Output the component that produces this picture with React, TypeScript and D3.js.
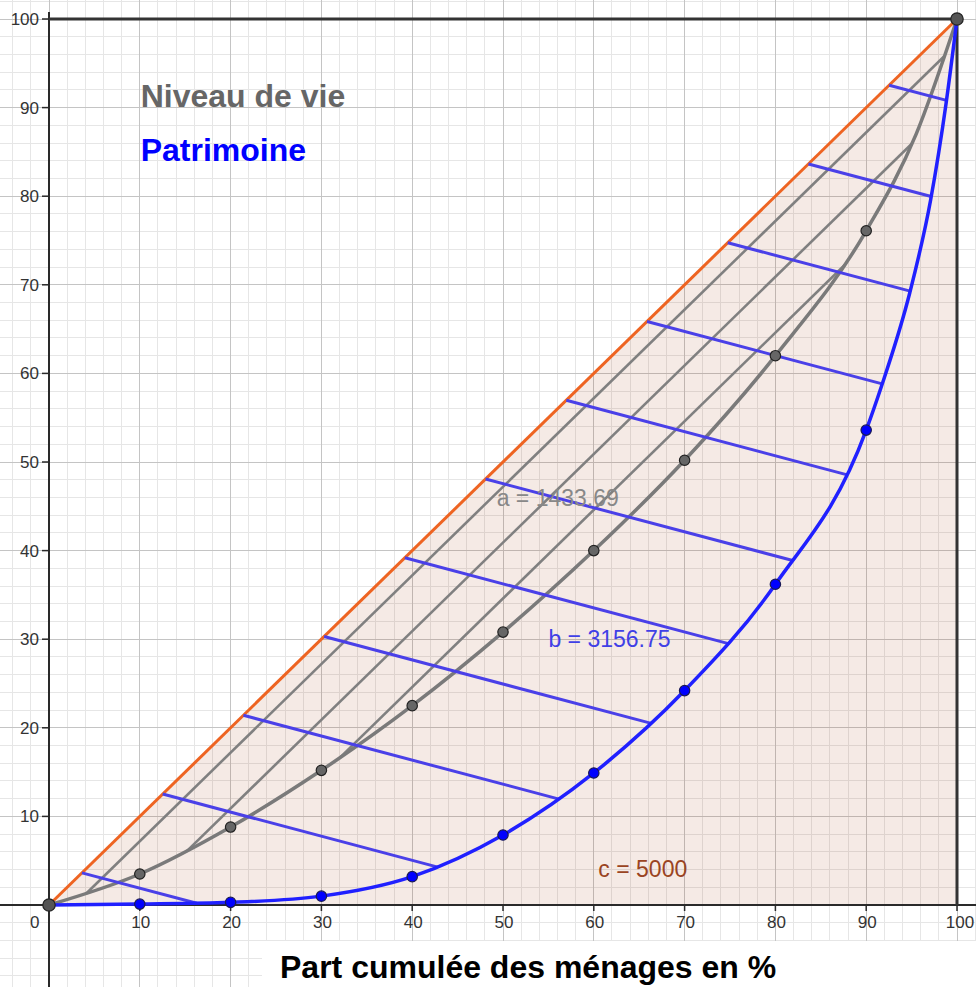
import React from 'react';
import * as d3 from 'd3';

const W = 976;
const H = 987;

// Data
const deciles = [0, 10, 20, 30, 40, 50, 60, 70, 80, 90, 100];
const niveauDeVie = [0, 3.5, 8.8, 15.2, 22.5, 30.8, 40.0, 50.2, 62.0, 76.1, 100];
const patrimoine = [0, 0.1, 0.3, 1.0, 3.2, 7.9, 14.9, 24.2, 36.2, 53.6, 100];
// extra readings of the curves near their steep end
const niveauTopX = [95.5];
const niveauTopY = [87.0];
const patrimoineTopX = [91.7, 94.8, 97.1, 98.8];
const patrimoineTopY = [58.6, 69.1, 79.6, 90.5];

const xTickValues = [10, 20, 30, 40, 50, 60, 70, 80, 90, 100];
const yTickValues = [10, 20, 30, 40, 50, 60, 70, 80, 90, 100];

// hatching of area a: lines parallel to the diagonal, offsets (percentage points)
const grayHatchOffsets = [2.8, 9.1, 15.4];
// hatching of area b: lines starting on the diagonal
const blueHatchStart = 3.63;
const blueHatchStep = 8.89;
const blueHatchCount = 11;
const blueHatchSlope = -0.272;

const areaNames = ['a', 'b', 'c'];
const areaValues = ['1433.69', '3156.75', '5000'];
const legendNames = ['Niveau de vie', 'Patrimoine'];
const axisTitle = 'Part cumulée des ménages en %';

const FONT = '"Liberation Sans", Arial, Helvetica, sans-serif';

function monotone(xs: number[], ys: number[]) {
  const n = xs.length;
  const s: number[] = [];
  for (let i = 0; i < n - 1; i++) s.push((ys[i + 1] - ys[i]) / (xs[i + 1] - xs[i]));
  const t: number[] = new Array(n).fill(0);
  for (let i = 1; i < n - 1; i++) {
    const h0 = xs[i] - xs[i - 1];
    const h1 = xs[i + 1] - xs[i];
    const s0 = s[i - 1];
    const s1 = s[i];
    const p = (s0 * h1 + s1 * h0) / (h0 + h1);
    t[i] = (Math.sign(s0) + Math.sign(s1)) * Math.min(Math.abs(s0), Math.abs(s1), 0.5 * Math.abs(p)) || 0;
  }
  t[0] = (3 * s[0] - t[1]) / 2;
  t[n - 1] = (3 * s[n - 2] - t[n - 2]) / 2;
  return (x: number) => {
    let i = 0;
    while (i < n - 2 && x > xs[i + 1]) i++;
    const h = xs[i + 1] - xs[i];
    const u = (x - xs[i]) / h;
    const u2 = u * u;
    const u3 = u2 * u;
    return (
      (2 * u3 - 3 * u2 + 1) * ys[i] +
      (u3 - 2 * u2 + u) * h * t[i] +
      (-2 * u3 + 3 * u2) * ys[i + 1] +
      (u3 - u2) * h * t[i + 1]
    );
  };
}

function bisect(f: (v: number) => number, lo: number, hi: number) {
  const flo = f(lo);
  for (let it = 0; it < 60; it++) {
    const mid = (lo + hi) / 2;
    if (Math.sign(f(mid)) === Math.sign(flo)) lo = mid;
    else hi = mid;
  }
  return (lo + hi) / 2;
}

export default function App() {
  const x = d3.scaleLinear().domain([0, 100]).range([49, 957]);
  const y = d3.scaleLinear().domain([0, 100]).range([905, 19]);

  const grayPts: [number, number][] = deciles.map((d, i) => [d, niveauDeVie[i]]);
  const bluePts: [number, number][] = deciles.map((d, i) => [d, patrimoine[i]]);
  const grayCurvePts: [number, number][] = [
    ...grayPts.slice(0, 10),
    ...niveauTopX.map((v, i) => [v, niveauTopY[i]] as [number, number]),
    grayPts[10],
  ];
  const blueCurvePts: [number, number][] = [
    ...bluePts.slice(0, 10),
    ...patrimoineTopX.map((v, i) => [v, patrimoineTopY[i]] as [number, number]),
    bluePts[10],
  ];

  const line = d3
    .line<[number, number]>()
    .x((d) => x(d[0]))
    .y((d) => y(d[1]))
    .curve(d3.curveMonotoneX);
  const straight = d3
    .line<[number, number]>()
    .x((d) => x(d[0]))
    .y((d) => y(d[1]));

  const G = monotone(grayCurvePts.map((d) => d[0]), grayCurvePts.map((d) => d[1]));
  const B = monotone(blueCurvePts.map((d) => d[0]), blueCurvePts.map((d) => d[1]));

  const gap = (v: number) => v - G(v);
  const xs = d3.range(0, 100.001, 0.25);
  const xMax = xs[d3.maxIndex(xs, gap)];

  const grayHatch = grayHatchOffsets.map((c) => {
    const f = (v: number) => gap(v) - c;
    const x0 = bisect(f, 0.0001, xMax);
    const x1 = bisect(f, xMax, 100);
    return [
      [x0, x0 - c],
      [x1, x1 - c],
    ] as [number, number][];
  });

  const blueHatch = d3.range(blueHatchCount).map((k) => {
    const s0 = blueHatchStart + k * blueHatchStep;
    const f = (v: number) => s0 + blueHatchSlope * (v - s0) - B(v);
    const xe = bisect(f, s0, 100);
    return [
      [s0, s0],
      [xe, s0 + blueHatchSlope * (xe - s0)],
    ] as [number, number][];
  });

  const minor = d3.range(-10, 104, 2);
  const major = d3.range(-10, 104, 10);

  const tri: [number, number][] = [
    [0, 0],
    [100, 100],
    [100, 0],
  ];

  return (
    <svg
      width={W}
      height={H}
      viewBox={`0 0 ${W} ${H}`}
      style={{ position: 'absolute', left: 0, top: 0, background: '#fff' }}
      fontFamily={FONT}
    >
      <rect x={0} y={0} width={W} height={H} fill="#fff" />
      {/* grid */}
      <g shapeRendering="crispEdges">
        {minor.map((v) => (
          <line key={'mx' + v} x1={x(v)} x2={x(v)} y1={0} y2={H} stroke="#e6e6e6" strokeWidth={1} />
        ))}
        {minor.map((v) => (
          <line key={'my' + v} x1={0} x2={W} y1={y(v)} y2={y(v)} stroke="#e6e6e6" strokeWidth={1} />
        ))}
        {major.map((v) => (
          <line key={'Mx' + v} x1={x(v)} x2={x(v)} y1={0} y2={H} stroke="#c4c4c4" strokeWidth={1} />
        ))}
        {major.map((v) => (
          <line key={'My' + v} x1={0} x2={W} y1={y(v)} y2={y(v)} stroke="#c4c4c4" strokeWidth={1} />
        ))}
      </g>

      {/* shaded triangle */}
      <path d={straight(tri) + 'Z'} fill="rgb(153,51,0)" fillOpacity={0.1} stroke="none" />

      {/* axes */}
      <line x1={0} x2={W} y1={y(0)} y2={y(0)} stroke="#2a2a2a" strokeWidth={2} />
      <line x1={x(0)} x2={x(0)} y1={12} y2={H} stroke="#2a2a2a" strokeWidth={2} />
      {yTickValues.map((v) => (
        <line key={'yt' + v} x1={x(0) - 7} x2={x(0)} y1={y(v)} y2={y(v)} stroke="#2a2a2a" strokeWidth={1.5} />
      ))}
      {xTickValues.map((v) => (
        <line key={'xt' + v} x1={x(v)} x2={x(v)} y1={y(0)} y2={y(0) + 6} stroke="#2a2a2a" strokeWidth={1.5} />
      ))}

      {/* frame segments */}
      <path d={straight([[0, 100], [100, 100], [100, 0]])!} fill="none" stroke="#333" strokeWidth={3} />

      {/* equality line */}
      <path d={straight([[0, 0], [100, 100]])!} fill="none" stroke="#ee6422" strokeWidth={3} />

      {/* gray hatch lines */}
      {grayHatch.map((pts, i) => (
        <path key={'gh' + i} d={straight(pts)!} fill="none" stroke="#808080" strokeWidth={2.6} />
      ))}

      {/* niveau de vie curve */}
      <path d={line(grayCurvePts)!} fill="none" stroke="#7a7a7a" strokeWidth={3.5} />

      {/* blue hatch */}
      {blueHatch.map((pts, i) => (
        <path key={'bh' + i} d={straight(pts)!} fill="none" stroke="#4a40e8" strokeWidth={3} />
      ))}

      {/* patrimoine curve */}
      <path d={line(blueCurvePts)!} fill="none" stroke="#2020ff" strokeWidth={3.5} />

      {/* points */}
      {bluePts.slice(1, 10).map((d, i) => (
        <circle key={'bp' + i} cx={x(d[0])} cy={y(d[1])} r={5.2} fill="#0000ff" stroke="#1a1a55" strokeWidth={1.2} />
      ))}
      {grayPts.slice(1, 10).map((d, i) => (
        <circle key={'gp' + i} cx={x(d[0])} cy={y(d[1])} r={5.2} fill="#666" stroke="#222" strokeWidth={1.2} />
      ))}
      {[grayPts[0], grayPts[10]].map((d, i) => (
        <circle key={'ep' + i} cx={x(d[0])} cy={y(d[1])} r={6.2} fill="#555" stroke="#222" strokeWidth={1.2} />
      ))}

      {/* tick labels */}
      {xTickValues.map((v) => (
        <text key={'xl' + v} x={x(v) + (v === 100 ? 3 : 1)} y={928} textAnchor="middle" fontSize={17} fill="#333">
          {v}
        </text>
      ))}
      {yTickValues.map((v) => (
        <text key={'yl' + v} x={39} y={y(v) + 6} textAnchor="end" fontSize={17} fill="#333">
          {v}
        </text>
      ))}
      <text x={39.5} y={928} textAnchor="end" fontSize={17} fill="#333">
        0
      </text>

      {/* legend texts */}
      <text x={x(10.1)} y={y(90.1)} fontSize={32} fontWeight="bold" fill="#666">
        {legendNames[0]}
      </text>
      <text x={x(10.1)} y={y(84.0)} fontSize={32} fontWeight="bold" fill="#0000ff">
        {legendNames[1]}
      </text>

      {/* area labels */}
      <text x={x(49.3)} y={y(45.0)} fontSize={23} fill="#888">
        {areaNames[0]} = {areaValues[0]}
      </text>
      <text x={x(55.0)} y={y(29.1)} fontSize={23} fill="#4040e6">
        {areaNames[1]} = {areaValues[1]}
      </text>
      <text x={x(60.5)} y={y(3.2)} fontSize={23} fill="#9a4422">
        {areaNames[2]} = {areaValues[2]}
      </text>

      {/* axis title */}
      <rect x={262} y={941} width={W - 262} height={H - 941} fill="#fff" />
      <text x={280} y={978} fontSize={32} fontWeight="bold" fill="#000">
        {axisTitle}
      </text>
    </svg>
  );
}
